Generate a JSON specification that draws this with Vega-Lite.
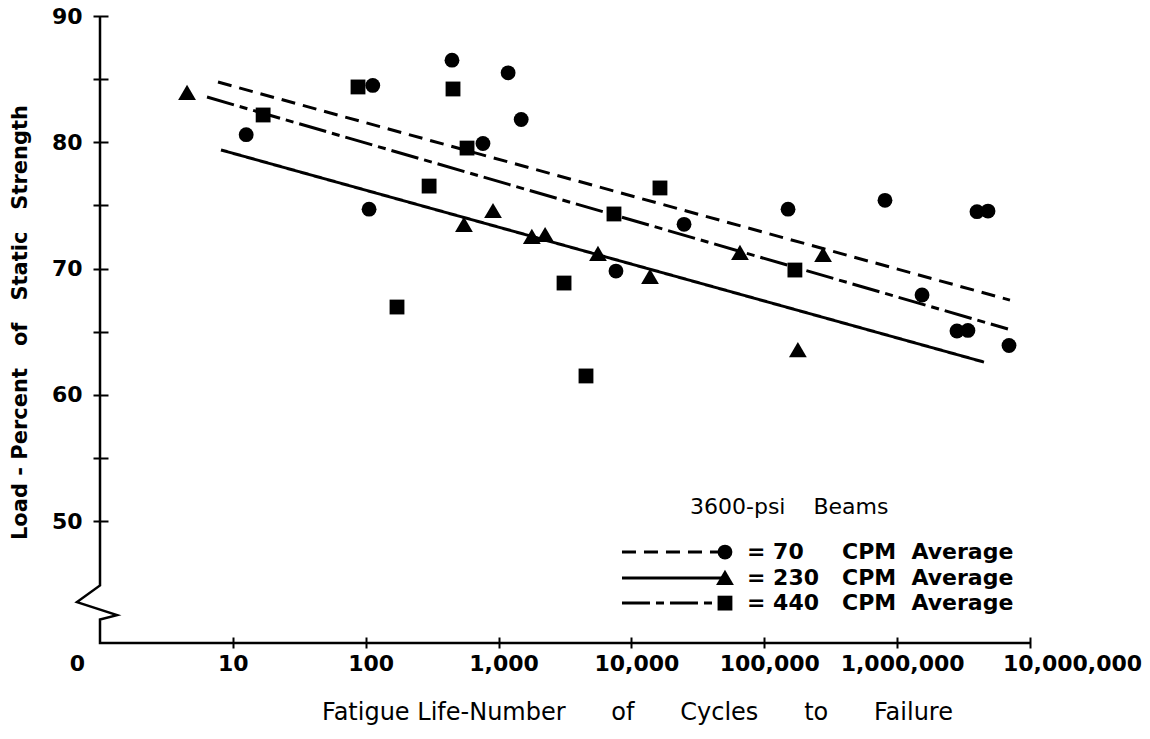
{
  "$schema": "https://vega.github.io/schema/vega-lite/v6.json",
  "width": 930,
  "height": 627,
  "autosize": "none",
  "padding": {"left": 100, "top": 16, "right": 120, "bottom": 96},
  "background": "white",
  "config": {"view": {"stroke": null}, "font": "DejaVu Sans"},
  "datasets": {
    "points": [
      {"series": "70 CPM", "cycles": 12.6, "load": 80.6},
      {"series": "70 CPM", "cycles": 106, "load": 74.7},
      {"series": "70 CPM", "cycles": 113, "load": 84.5},
      {"series": "70 CPM", "cycles": 446, "load": 86.5},
      {"series": "70 CPM", "cycles": 763, "load": 79.9},
      {"series": "70 CPM", "cycles": 1180, "load": 85.5},
      {"series": "70 CPM", "cycles": 1480, "load": 81.8},
      {"series": "70 CPM", "cycles": 7650, "load": 69.8},
      {"series": "70 CPM", "cycles": 24900, "load": 73.5},
      {"series": "70 CPM", "cycles": 151000, "load": 74.7},
      {"series": "70 CPM", "cycles": 810000, "load": 75.4},
      {"series": "70 CPM", "cycles": 1540000, "load": 67.9},
      {"series": "70 CPM", "cycles": 2820000, "load": 65.05},
      {"series": "70 CPM", "cycles": 3410000, "load": 65.1},
      {"series": "70 CPM", "cycles": 3990000, "load": 74.5},
      {"series": "70 CPM", "cycles": 4830000, "load": 74.55},
      {"series": "70 CPM", "cycles": 6950000, "load": 63.9},
      {"series": "230 CPM", "cycles": 4.52, "load": 83.9},
      {"series": "230 CPM", "cycles": 549, "load": 73.45},
      {"series": "230 CPM", "cycles": 908, "load": 74.55},
      {"series": "230 CPM", "cycles": 1780, "load": 72.5},
      {"series": "230 CPM", "cycles": 2240, "load": 72.65},
      {"series": "230 CPM", "cycles": 5600, "load": 71.15},
      {"series": "230 CPM", "cycles": 13800, "load": 69.33},
      {"series": "230 CPM", "cycles": 65600, "load": 71.23},
      {"series": "230 CPM", "cycles": 179000, "load": 63.54},
      {"series": "230 CPM", "cycles": 277000, "load": 71.07},
      {"series": "440 CPM", "cycles": 16.9, "load": 82.16},
      {"series": "440 CPM", "cycles": 87.5, "load": 84.38},
      {"series": "440 CPM", "cycles": 172, "load": 66.95},
      {"series": "440 CPM", "cycles": 300, "load": 76.53},
      {"series": "440 CPM", "cycles": 454, "load": 84.22},
      {"series": "440 CPM", "cycles": 579, "load": 79.54},
      {"series": "440 CPM", "cycles": 3110, "load": 68.85},
      {"series": "440 CPM", "cycles": 4550, "load": 61.49},
      {"series": "440 CPM", "cycles": 7390, "load": 74.32},
      {"series": "440 CPM", "cycles": 16400, "load": 76.38},
      {"series": "440 CPM", "cycles": 170000, "load": 69.88}
    ],
    "fits": [
      {"series": "70 CPM", "cycles": 7.73, "load": 84.77},
      {"series": "70 CPM", "cycles": 7066000, "load": 67.5},
      {"series": "230 CPM", "cycles": 8.14, "load": 79.39},
      {"series": "230 CPM", "cycles": 4504000, "load": 62.59},
      {"series": "440 CPM", "cycles": 6.39, "load": 83.58},
      {"series": "440 CPM", "cycles": 6825000, "load": 65.21}
    ],
    "axisline": [
      {"order": 1, "cycles": 1, "load": 90},
      {"order": 2, "cycles": 1, "load": 44.9},
      {"order": 3, "cycles": 0.671, "load": 43.58},
      {"order": 4, "cycles": 1.343, "load": 42.55},
      {"order": 5, "cycles": 1, "load": 42.2},
      {"order": 6, "cycles": 1, "load": 40.34},
      {"order": 7, "cycles": 10000000, "load": 40.34}
    ],
    "legendTitle": [{"text": "3600-psi\u00a0\u00a0\u00a0\u00a0Beams"}],
    "legendRows": [
      {"series": "70 CPM", "label": "= 70", "rest": "CPM\u00a0\u00a0Average"},
      {"series": "230 CPM", "label": "= 230", "rest": "CPM\u00a0\u00a0Average"},
      {"series": "440 CPM", "label": "= 440", "rest": "CPM\u00a0\u00a0Average"}
    ]
  },
  "layer": [
    {
      "data": {"name": "axisline"},
      "mark": {"type": "line", "color": "black", "strokeWidth": 2.5, "clip": false},
      "encoding": {
        "x": {
          "field": "cycles",
          "type": "quantitative",
          "scale": {"type": "log", "domain": [1, 10000000], "nice": false},
          "axis": {
            "title": "Fatigue\u00a0Life-Number\u00a0\u00a0\u00a0\u00a0\u00a0\u00a0of\u00a0\u00a0\u00a0\u00a0\u00a0\u00a0Cycles\u00a0\u00a0\u00a0\u00a0\u00a0\u00a0to\u00a0\u00a0\u00a0\u00a0\u00a0\u00a0Failure",
            "values": [1, 10, 100, 1000, 10000, 100000, 1000000, 10000000],
            "labelExpr": "datum.value < 2 ? '0' : format(datum.value, ',')",
            "domain": false,
            "grid": false,
            "offset": -6,
            "tickSize": 11,
            "tickWidth": 2,
            "tickColor": {"condition": {"test": "datum.value < 2", "value": "transparent"}, "value": "black"},
            "labelFont": "DejaVu Sans",
            "labelFontSize": 22,
            "labelFontWeight": "bold",
            "labelColor": "black",
            "labelPadding": 5,
            "labelOverlap": false,
            "labelFlush": false,
            "labelOffset": {"condition": [{"test": "datum.value < 2", "value": -23}, {"test": "datum.value < 20", "value": 0}, {"test": "datum.value > 5000000", "value": 42}], "value": 5},
            "titleFont": "DejaVu Sans",
            "titleFontSize": 24,
            "titleFontWeight": "normal",
            "titleColor": "black",
            "titleX": 537,
            "titleY": 75,
            "titleAlign": "center",
            "titleBaseline": "middle"
          }
        },
        "y": {
          "field": "load",
          "type": "quantitative",
          "scale": {"domain": [40.34, 90], "zero": false, "nice": false},
          "axis": {
            "title": "Load\u00a0-\u00a0Percent\u00a0\u00a0\u00a0of\u00a0\u00a0\u00a0Static\u00a0\u00a0\u00a0Strength",
            "values": [50, 55, 60, 65, 70, 75, 80, 85, 90],
            "labelExpr": "datum.value % 10 === 0 ? datum.label : ''",
            "domain": false,
            "grid": false,
            "offset": -8,
            "tickSize": 15,
            "tickWidth": 2,
            "tickColor": "black",
            "labelFont": "DejaVu Sans",
            "labelFontSize": 22,
            "labelFontWeight": "bold",
            "labelColor": "black",
            "labelPadding": 11,
            "titleFont": "DejaVu Sans",
            "titleFontSize": 21,
            "titleFontWeight": "bold",
            "titleColor": "black",
            "titleX": -88,
            "titleY": 306,
            "titleAngle": -90,
            "titleAlign": "center",
            "titleBaseline": "middle"
          }
        },
        "order": {"field": "order", "type": "quantitative"}
      }
    },
    {
      "data": {"name": "fits"},
      "mark": {"type": "line", "color": "black", "strokeWidth": 3},
      "encoding": {
        "x": {"field": "cycles", "type": "quantitative"},
        "y": {"field": "load", "type": "quantitative"},
        "strokeDash": {
          "field": "series",
          "type": "nominal",
          "scale": {"domain": ["70 CPM", "230 CPM", "440 CPM"], "range": [[14, 8], [1, 0], [28, 6, 8, 6]]},
          "legend": null
        }
      }
    },
    {
      "data": {"name": "points"},
      "mark": {"type": "point", "filled": true, "color": "black", "opacity": 1, "size": 220},
      "encoding": {
        "x": {"field": "cycles", "type": "quantitative"},
        "y": {"field": "load", "type": "quantitative"},
        "shape": {
          "field": "series",
          "type": "nominal",
          "scale": {"domain": ["70 CPM", "230 CPM", "440 CPM"], "range": ["circle", "M0,-1.1L1.2,0.95L-1.2,0.95Z", "square"]},
          "legend": null
        }
      }
    },
    {
      "data": {"name": "legendTitle"},
      "mark": {"type": "text", "align": "left", "baseline": "middle", "fontSize": 22, "color": "black"},
      "encoding": {"x": {"datum": 27600}, "y": {"datum": 51.1}, "text": {"field": "text", "type": "nominal"}}
    },
    {
      "data": {"name": "legendRows"},
      "transform": [{"filter": "datum.series === '70 CPM'"}],
      "layer": [
        {"mark": {"type": "rule", "strokeWidth": 3, "color": "black"}, "encoding": {"x": {"datum": 8490}, "x2": {"datum": 50600}, "y": {"datum": 47.54}, "strokeDash": {"field": "series", "type": "nominal", "legend": null}}},
        {"mark": {"type": "point", "filled": true, "color": "black", "opacity": 1, "size": 220}, "encoding": {"x": {"datum": 50600}, "y": {"datum": 47.54}, "shape": {"field": "series", "type": "nominal", "legend": null}}},
        {"mark": {"type": "text", "align": "left", "baseline": "middle", "fontSize": 22, "fontWeight": "bold", "color": "black"}, "encoding": {"x": {"datum": 74100}, "y": {"datum": 47.54}, "text": {"field": "label", "type": "nominal"}}},
        {"mark": {"type": "text", "align": "left", "baseline": "middle", "fontSize": 22, "fontWeight": "bold", "color": "black"}, "encoding": {"x": {"datum": 384500}, "y": {"datum": 47.54}, "text": {"field": "rest", "type": "nominal"}}}
      ]
    },
    {
      "data": {"name": "legendRows"},
      "transform": [{"filter": "datum.series === '230 CPM'"}],
      "layer": [
        {"mark": {"type": "rule", "strokeWidth": 3, "color": "black"}, "encoding": {"x": {"datum": 8490}, "x2": {"datum": 50600}, "y": {"datum": 45.49}, "strokeDash": {"field": "series", "type": "nominal", "legend": null}}},
        {"mark": {"type": "point", "filled": true, "color": "black", "opacity": 1, "size": 220}, "encoding": {"x": {"datum": 50600}, "y": {"datum": 45.49}, "shape": {"field": "series", "type": "nominal", "legend": null}}},
        {"mark": {"type": "text", "align": "left", "baseline": "middle", "fontSize": 22, "fontWeight": "bold", "color": "black"}, "encoding": {"x": {"datum": 74100}, "y": {"datum": 45.49}, "text": {"field": "label", "type": "nominal"}}},
        {"mark": {"type": "text", "align": "left", "baseline": "middle", "fontSize": 22, "fontWeight": "bold", "color": "black"}, "encoding": {"x": {"datum": 384500}, "y": {"datum": 45.49}, "text": {"field": "rest", "type": "nominal"}}}
      ]
    },
    {
      "data": {"name": "legendRows"},
      "transform": [{"filter": "datum.series === '440 CPM'"}],
      "layer": [
        {"mark": {"type": "rule", "strokeWidth": 3, "color": "black"}, "encoding": {"x": {"datum": 8490}, "x2": {"datum": 50600}, "y": {"datum": 43.5}, "strokeDash": {"field": "series", "type": "nominal", "legend": null}}},
        {"mark": {"type": "point", "filled": true, "color": "black", "opacity": 1, "size": 220}, "encoding": {"x": {"datum": 50600}, "y": {"datum": 43.5}, "shape": {"field": "series", "type": "nominal", "legend": null}}},
        {"mark": {"type": "text", "align": "left", "baseline": "middle", "fontSize": 22, "fontWeight": "bold", "color": "black"}, "encoding": {"x": {"datum": 74100}, "y": {"datum": 43.5}, "text": {"field": "label", "type": "nominal"}}},
        {"mark": {"type": "text", "align": "left", "baseline": "middle", "fontSize": 22, "fontWeight": "bold", "color": "black"}, "encoding": {"x": {"datum": 384500}, "y": {"datum": 43.5}, "text": {"field": "rest", "type": "nominal"}}}
      ]
    }
  ]
}
